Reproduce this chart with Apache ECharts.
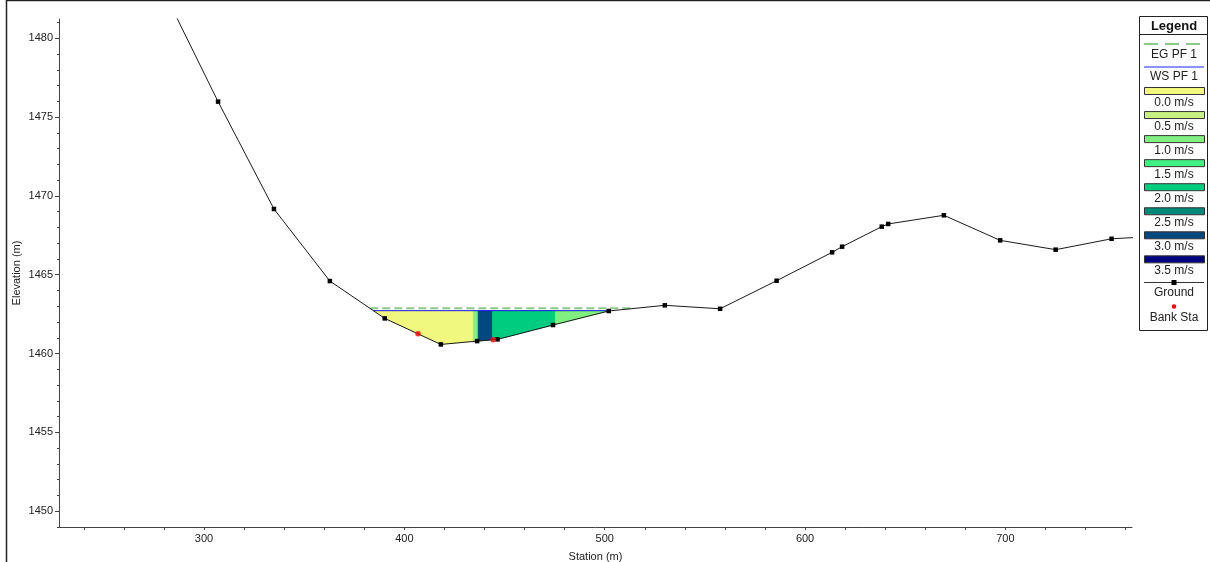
<!DOCTYPE html>
<html><head><meta charset="utf-8">
<script src="https://cdn.jsdelivr.net/npm/echarts@6/dist/echarts.min.js"></script>
<style>html,body{margin:0;padding:0;background:#fff}#c{width:1210px;height:562px}</style>
</head><body><div id="c"></div>
<script>
// ---- data ----
const groundStation = [280.0, 307.0, 334.9, 362.8, 390.2, 418.2, 436.3, 446.5, 474.2, 502.0, 530.0, 557.6, 585.8, 613.5, 618.5, 638.3, 641.5, 669.3, 697.4, 725.1, 753.0, 766.0];
const groundElev    = [1482.95, 1475.98, 1469.17, 1464.60, 1462.23, 1460.58, 1460.79, 1460.90, 1461.81, 1462.70, 1463.06, 1462.84, 1464.62, 1466.42, 1466.78, 1468.05, 1468.22, 1468.77, 1467.18, 1466.59, 1467.28, 1467.37];
const bankStation = [406.8, 444.3];
const bankElev    = [1461.25, 1460.88];
const wsStations = [384.5, 502.6];
const wsElev = 1462.72;
const egStations = [383.0, 513.0];
const egElev = 1462.87;
const sliceBounds   = [384.5, 434.4, 436.8, 444.0, 475.4, 502.6];
const sliceVelocity = [0.1, 1.1, 3.1, 2.2, 1.2];
const velClasses = ['0.0 m/s', '0.5 m/s', '1.0 m/s', '1.5 m/s', '2.0 m/s', '2.5 m/s', '3.0 m/s', '3.5 m/s'];
const velColors  = ['#f0f880', '#c8f080', '#80f080', '#40f080', '#00cc80', '#008878', '#004880', '#000080'];
const xTickValues  = [240, 260, 280, 300, 320, 340, 360, 380, 400, 420, 440, 460, 480, 500, 520, 540, 560, 580, 600, 620, 640, 660, 680, 700, 720, 740, 760];
const xLabelValues = [300, 400, 500, 600, 700];
const yLabelValues = [1450, 1455, 1460, 1465, 1470, 1475, 1480];
const yMinorValues = [1449, 1450, 1451, 1452, 1453, 1454, 1455, 1456, 1457, 1458, 1459, 1460, 1461, 1462, 1463, 1464, 1465, 1466, 1467, 1468, 1469, 1470, 1471, 1472, 1473, 1474, 1475, 1476, 1477, 1478, 1479, 1480, 1481];
const legendTitle = 'Legend';
const egLabel = 'EG PF 1';
const wsLabel = 'WS PF 1';
const groundLabel = 'Ground';
const bankLabel = 'Bank Sta';
const xName = 'Station (m)';
const yName = 'Elevation (m)';

const FONT = "'Liberation Sans', Arial, sans-serif";

function groundAt(s) {
  for (let i = 0; i < groundStation.length - 1; i++) {
    const a = groundStation[i], b = groundStation[i + 1];
    if (s >= a && s <= b) {
      return groundElev[i] + (groundElev[i + 1] - groundElev[i]) * (s - a) / (b - a);
    }
  }
  return wsElev;
}

const chart = echarts.init(document.getElementById('c'), null, {renderer: 'canvas'});

// legend graphic
const LX0 = 1144, LX1 = 1204, LC = 1174;
const g = [];
g.push({type: 'rect', shape: {x: 1139.5, y: 16.5, width: 68, height: 314}, style: {fill: '#fff', stroke: '#222', lineWidth: 1}, z: 10});
g.push({type: 'text', x: LC, y: 26.5, style: {text: legendTitle, font: 'bold 13px ' + FONT, fill: '#111', align: 'center', verticalAlign: 'middle'}, z: 11});
g.push({type: 'line', shape: {x1: 1139.5, y1: 34.5, x2: 1207.5, y2: 34.5}, style: {stroke: '#222', lineWidth: 1}, z: 11});
g.push({type: 'line', shape: {x1: LX0, y1: 44, x2: LX1, y2: 44}, style: {stroke: '#8cc88c', lineWidth: 2, lineDash: [14, 7]}, z: 11});
g.push({type: 'text', x: LC, y: 54.5, style: {text: egLabel, font: '12px ' + FONT, fill: '#222', align: 'center', verticalAlign: 'middle'}, z: 11});
g.push({type: 'line', shape: {x1: LX0, y1: 67, x2: LX1, y2: 67}, style: {stroke: '#6a6aff', lineWidth: 1.5}, z: 11});
g.push({type: 'text', x: LC, y: 77, style: {text: wsLabel, font: '12px ' + FONT, fill: '#222', align: 'center', verticalAlign: 'middle'}, z: 11});
velClasses.forEach((lab, i) => {
  const cy = 91 + i * 24.05;
  g.push({type: 'rect', shape: {x: LX0 + 0.5, y: cy - 3.5, width: LX1 - LX0, height: 7}, style: {fill: velColors[i], stroke: '#333', lineWidth: 1}, z: 11});
  g.push({type: 'text', x: LC, y: cy + 11.3, style: {text: lab, font: '12px ' + FONT, fill: '#222', align: 'center', verticalAlign: 'middle'}, z: 11});
});
g.push({type: 'line', shape: {x1: LX0, y1: 282.5, x2: LX1, y2: 282.5}, style: {stroke: '#333', lineWidth: 1}, z: 11});
g.push({type: 'rect', shape: {x: LC - 2.5, y: 280, width: 5, height: 5}, style: {fill: '#000'}, z: 12});
g.push({type: 'text', x: LC, y: 293, style: {text: groundLabel, font: '12px ' + FONT, fill: '#222', align: 'center', verticalAlign: 'middle'}, z: 11});
g.push({type: 'circle', shape: {cx: LC, cy: 306.5, r: 2.2}, style: {fill: '#f00'}, z: 11});
g.push({type: 'text', x: LC, y: 317.5, style: {text: bankLabel, font: '12px ' + FONT, fill: '#222', align: 'center', verticalAlign: 'middle'}, z: 11});
// outer frame
g.push({type: 'polyline', shape: {points: [[6.5, 562], [6.5, 0.5], [1210, 0.5]]}, style: {stroke: '#222', lineWidth: 1.5, fill: null}, z: 11});

const plain = v => String(v);

const option = {
  animation: false,
  backgroundColor: '#fff',
  grid: {left: 59, top: 19, width: 1073, height: 508, containLabel: false, outerBoundsMode: 'none'},
  xAxis: {
    type: 'value', min: 227.6, max: 763.2,
    name: xName, nameLocation: 'middle', nameGap: 24, nameMoveOverlap: false,
    nameTextStyle: {fontFamily: FONT, fontSize: 11, color: '#222'},
    axisLine: {show: true, onZero: false, lineStyle: {color: '#444', width: 1}},
    axisTick: {show: true, customValues: xTickValues, length: 3, lineStyle: {color: '#444'}},
    axisLabel: {customValues: xLabelValues, formatter: plain, fontFamily: FONT, fontSize: 11, color: '#222', margin: 6},
    splitLine: {show: false}
  },
  yAxis: [{
    type: 'value', min: 1449, max: 1481.22,
    name: yName, nameLocation: 'middle', nameGap: 37, nameRotate: 90, nameMoveOverlap: false,
    nameTextStyle: {fontFamily: FONT, fontSize: 11, color: '#222'},
    axisLine: {show: true, onZero: false, lineStyle: {color: '#444', width: 1}},
    axisTick: {show: true, customValues: yLabelValues, length: 4, lineStyle: {color: '#444'}},
    axisLabel: {customValues: yLabelValues, formatter: plain, fontFamily: FONT, fontSize: 11, color: '#222', margin: 6},
    splitLine: {show: false}
  }, {
    type: 'value', min: 1449, max: 1481.22, position: 'left',
    axisLine: {show: false},
    axisTick: {show: true, customValues: yMinorValues, length: 2, lineStyle: {color: '#444'}},
    axisLabel: {show: false},
    splitLine: {show: false}
  }],
  series: [
    {
      type: 'custom', name: 'velocity', yAxisIndex: 0, z: 1,
      encode: {x: 0, y: 1},
      data: sliceVelocity.map((v, i) => [sliceBounds[i], wsElev, i]),
      renderItem: function (params, api) {
        const i = params.dataIndex;
        const a = sliceBounds[i], b = sliceBounds[i + 1];
        const pts = [api.coord([a, wsElev]), api.coord([b, wsElev])];
        pts.push(api.coord([b, Math.min(groundAt(b), wsElev)]));
        for (let k = groundStation.length - 1; k >= 0; k--) {
          if (groundStation[k] > a && groundStation[k] < b) pts.push(api.coord([groundStation[k], groundElev[k]]));
        }
        pts.push(api.coord([a, Math.min(groundAt(a), wsElev)]));
        const col = velColors[Math.min(velColors.length - 1, Math.floor(sliceVelocity[i] / 0.5))];
        return {type: 'polygon', shape: {points: pts}, style: {fill: col, stroke: col, lineWidth: 0.6}};
      }
    },
    {
      type: 'line', name: wsLabel, z: 3, symbol: 'none',
      data: wsStations.map(s => [s, wsElev]),
      lineStyle: {color: '#1414e6', width: 1}
    },
    {
      type: 'line', name: egLabel, z: 3, symbol: 'none',
      data: egStations.map(s => [s, egElev]),
      lineStyle: {color: '#8cc88c', width: 2, type: [8, 4]}
    },
    {
      type: 'line', name: groundLabel, z: 4, clip: true, showAllSymbol: true,
      data: groundStation.map((s, i) => [s, groundElev[i]]),
      symbol: 'rect', symbolSize: 4.5,
      itemStyle: {color: '#000'},
      lineStyle: {color: '#1a1a1a', width: 1}
    },
    {
      type: 'scatter', name: bankLabel, z: 5,
      data: bankStation.map((s, i) => [s, bankElev[i]]),
      symbol: 'circle', symbolSize: 5.5,
      itemStyle: {color: '#ff0000'}
    }
  ],
  graphic: {elements: g}
};
chart.setOption(option);
</script>
</body></html>
